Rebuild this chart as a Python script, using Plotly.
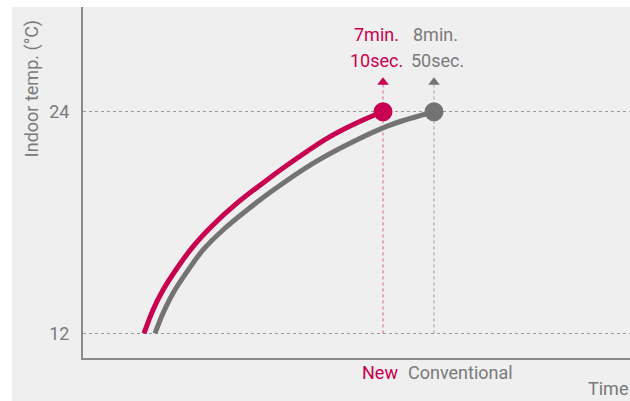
import plotly.graph_objects as go

# ---- data (time axis in arbitrary units, temperatures in °C) ----
new_time = [61, 70, 80, 94, 110, 130, 154, 184, 214, 247, 280, 300]
new_temp = [12.0, 13.27, 14.35, 15.53, 16.70, 17.87, 19.05, 20.31, 21.48, 22.65, 23.55, 24.0]
conv_time = [72, 80, 90, 104, 120, 140, 164, 190, 230, 270, 307, 351]
conv_temp = [12.0, 13.09, 14.18, 15.34, 16.52, 17.60, 18.68, 19.75, 21.21, 22.38, 23.28, 24.0]
y_ticks = [12, 24]
arrow_temp = 25.6
new_label = ["7min.", "10sec."]
conv_label = ["8min.", "50sec."]
series_names = ["New", "Conventional"]

RED = "#c8004f"
GRAY = "#737373"
TXT = "#7a7a7a"
FONT = "Roboto"

fig = go.Figure()

# vertical dotted guides
fig.add_trace(go.Scatter(x=[new_time[-1], new_time[-1]], y=[y_ticks[0], arrow_temp],
                         mode="lines", line=dict(color="#d85a8a", width=1, dash="dot"),
                         hoverinfo="skip", showlegend=False))
fig.add_trace(go.Scatter(x=[conv_time[-1], conv_time[-1]], y=[y_ticks[0], arrow_temp],
                         mode="lines", line=dict(color="#9a9a9a", width=1, dash="dot"),
                         hoverinfo="skip", showlegend=False))
# arrow heads
fig.add_trace(go.Scatter(x=[new_time[-1]], y=[arrow_temp], mode="markers",
                         marker=dict(symbol="triangle-up", size=10, color=RED),
                         showlegend=False))
fig.add_trace(go.Scatter(x=[conv_time[-1]], y=[arrow_temp], mode="markers",
                         marker=dict(symbol="triangle-up", size=10, color=GRAY),
                         showlegend=False))

# curves
fig.add_trace(go.Scatter(x=conv_time, y=conv_temp, mode="lines", line_shape="spline",
                         line=dict(color=GRAY, width=5, smoothing=1.0),
                         name=series_names[1], showlegend=False))
fig.add_trace(go.Scatter(x=new_time, y=new_temp, mode="lines", line_shape="spline",
                         line=dict(color=RED, width=5, smoothing=1.0),
                         name=series_names[0], showlegend=False))
# end dots
fig.add_trace(go.Scatter(x=[conv_time[-1]], y=[conv_temp[-1]], mode="markers",
                         marker=dict(size=19, color=GRAY), showlegend=False))
fig.add_trace(go.Scatter(x=[new_time[-1]], y=[new_temp[-1]], mode="markers",
                         marker=dict(size=19, color=RED), showlegend=False))

ann = []
# time labels above
ann.append(dict(x=new_time[-1], y=28.2, text=new_label[0], xanchor="right", xshift=18,
                font=dict(color=RED, size=18, family=FONT)))
ann.append(dict(x=new_time[-1], y=26.8, text=new_label[1], xanchor="right", xshift=22,
                font=dict(color=RED, size=18, family=FONT)))
ann.append(dict(x=conv_time[-1], y=28.2, text=conv_label[0], xanchor="left", xshift=-23,
                font=dict(color=TXT, size=18, family=FONT)))
ann.append(dict(x=conv_time[-1], y=26.8, text=conv_label[1], xanchor="left", xshift=-25,
                font=dict(color=TXT, size=18, family=FONT)))
# category names below axis
ann.append(dict(x=new_time[-1], y=-0.04, yref="paper", text=series_names[0], xanchor="right",
                xshift=17, yanchor="middle", font=dict(color=RED, size=18, family=FONT)))
ann.append(dict(x=conv_time[-1], y=-0.04, yref="paper", text=series_names[1], xanchor="left",
                xshift=-28, yanchor="middle", font=dict(color=TXT, size=18, family=FONT)))
# axis titles
ann.append(dict(x=1.0, xref="paper", y=-0.088, yref="paper", text="Time", xanchor="right",
                yanchor="middle", font=dict(color=TXT, size=18, family=FONT)))
ann.append(dict(x=-0.0932, xref="paper", y=0.766, yref="paper", text="Indoor temp. (°C)",
                textangle=-90, xanchor="center", yanchor="middle",
                font=dict(color=TXT, size=18, family=FONT)))
for a in ann:
    a.setdefault("showarrow", False)
    a.setdefault("xref", "x")
    a.setdefault("yref", "y")

fig.update_layout(
    width=630, height=401,
    margin=dict(l=83, r=0, t=7, b=43),
    paper_bgcolor="white",
    plot_bgcolor="#efefef",
    annotations=ann,
    shapes=[dict(type="rect", xref="paper", yref="paper", x0=-0.13, x1=1.0, y0=-0.13, y1=1.0,
                 fillcolor="#efefef", line=dict(width=0), layer="below")],
    showlegend=False,
    font=dict(family=FONT, color=TXT, size=18),
)
fig.update_xaxes(range=[0, 547], showgrid=False, zeroline=False, showticklabels=False,
                 showline=True, linecolor="#8a8a8a", linewidth=2, ticks="")
fig.update_yaxes(range=[10.67, 29.67], tickvals=y_ticks, showgrid=True, gridcolor="#9a9a9a",
                 griddash="dot", gridwidth=1, zeroline=False, showline=True,
                 linecolor="#8a8a8a", linewidth=2, ticks="", ticklabelstandoff=8,
                 tickfont=dict(color=TXT, size=18, family=FONT))

fig.write_html("out.html", config={"displayModeBar": False},
               post_script="document.body.style.margin='0';")
